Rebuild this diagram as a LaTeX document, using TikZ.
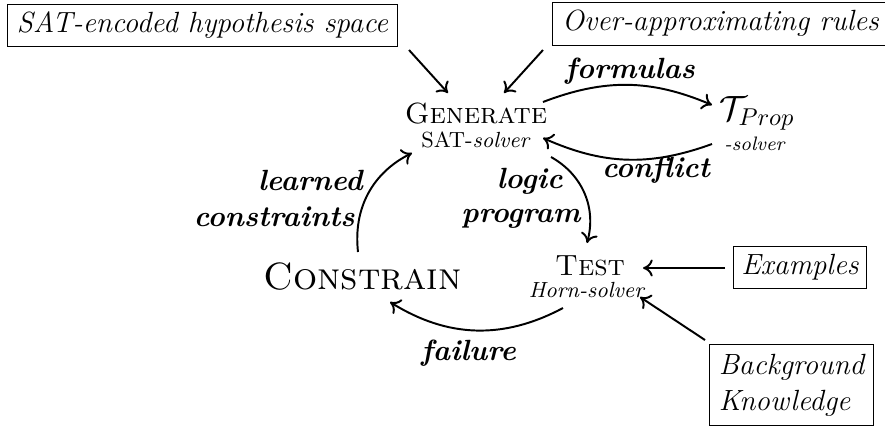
\documentclass[tikz,border=0pt]{standalone}
\usetikzlibrary{arrows.meta}
\begin{document}
\begin{tikzpicture}[x=0.01444cm,y=-0.01444cm,
  box/.style={draw,thin,font=\large\itshape,inner xsep=4pt,inner ysep=3pt,text height=8.5pt,text depth=3pt},
  conn/.style={thick,-{To[length=4pt,width=7pt]}},
  lab/.style={font=\large\bfseries\itshape,inner sep=0pt}]
\useasboundingbox (0,0) rectangle (885,427);
% boxes
\node[box] (hyp) at (202.5,25.5) {SAT-encoded hypothesis space};
\node[box,anchor=west] (over) at (552,24) {Over-approximating rules};
\node[box,inner xsep=3.3pt] (ex) at (800,267.5) {Examples};
\node[draw,thin,font=\fontsize{12}{14.8}\selectfont\itshape,align=left,inner xsep=4pt,inner ysep=4pt] (bk) at (791.5,385) {Background\\Knowledge};
% main nodes
\node[anchor=base,inner sep=0pt] (gen) at (476,123) {\large\textsc{Generate}};
\node[anchor=base,inner sep=0pt] (gensub) at (476,147) {\small SAT-\textit{solver}};
\node[anchor=base,inner sep=0pt] (tp) at (757,120) {\Large$\mathcal{T}_{Prop}$};
\node[anchor=base,inner sep=0pt] (tpsub) at (755,150) {\footnotesize\textit{-solver}};
\node[anchor=base,inner sep=0pt] (test) at (590,275) {\large\textsc{Test}};
\node[anchor=base,inner sep=0pt] (testsub) at (587,297) {\small\textit{Horn-solver}};
\node[anchor=base,inner sep=0pt] (con) at (362.5,289) {\fontsize{15.6}{18}\selectfont\textsc{Constrain}};
% labels
\node[lab,anchor=base] (lform) at (630,78) {formulas};
\node[lab,anchor=base] (lconf) at (656,177) {conflict};
\node[lab,anchor=base east] (llog) at (563,188) {logic};
\node[lab,anchor=base east] (lprog) at (581,222) {program};
\node[lab,anchor=base east] (llearn) at (363,190) {learned};
\node[lab,anchor=base east] (lcons) at (355,226) {constraints};
\node[lab,anchor=base] (lfail) at (468.5,360) {failure};
% connector end points
\coordinate (h1) at (409,50);  \coordinate (g1) at (448,93);
\coordinate (o1) at (543,50);  \coordinate (g2) at (504,93);
\coordinate (gf) at (543,102); \coordinate (tf) at (712,105);
\coordinate (tc) at (712,144); \coordinate (gc) at (543,138);
\coordinate (gl) at (551,157); \coordinate (tl) at (587,243);
\coordinate (tfa) at (563,308); \coordinate (cfa) at (390,302);
\coordinate (cl) at (358,252); \coordinate (gle) at (412,153);
\coordinate (exs) at (725,268); \coordinate (exe) at (643,268);
\coordinate (bks) at (705,340); \coordinate (bke) at (640,297);
% connectors
\draw[conn] (h1) -- (g1);
\draw[conn] (o1) -- (g2);
\draw[conn] (gf) to[bend left=22] (tf);
\draw[conn] (tc) to[bend left=22] (gc);
\draw[conn] (gl) to[bend left=38] (tl);
\draw[conn] (tfa) to[bend left=30] (cfa);
\draw[conn] (cl) to[bend left=35] (gle);
\draw[conn] (exs) -- (exe);
\draw[conn] (bks) -- (bke);
\end{tikzpicture}
\end{document}
